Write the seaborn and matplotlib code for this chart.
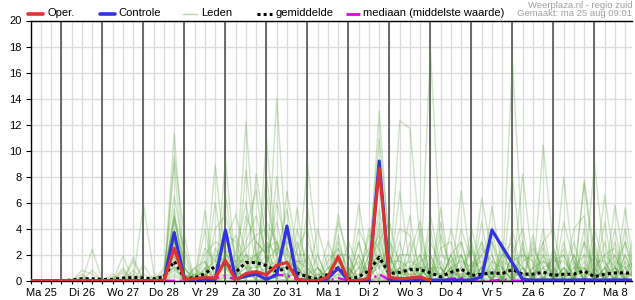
import numpy as np
import pandas as pd
import matplotlib
matplotlib.use("Agg")
import matplotlib.pyplot as plt
import seaborn as sns
from matplotlib.lines import Line2D

# ---------------- data (6-hourly steps, starting Ma 25 06:00) ----------------
day_labels = ["Ma 25", "Di 26", "Wo 27", "Do 28", "Vr 29", "Za 30", "Zo 31",
              "Ma 1", "Di 2", "Wo 3", "Do 4", "Vr 5", "Za 6", "Zo 7", "Ma 8"]
n_steps = 60
hours = [6 + 6 * i for i in range(n_steps)]   # hours since Ma 25 00:00

oper = [0, 0, 0, 0, 0, 0, 0, 0, 0, 0, 0, 0, 0, 0,
        2.5, 0.1, 0.15, 0.25, 0.2, 1.55, 0.05, 0.55, 0.7, 0.45, 1.2, 1.4,
        0.1, 0.0, 0.0, 0.3, 1.85, 0.0, 0.0, 0.2, 8.65, 0.25, 0.15, 0.2, 0.3, 0.0]

controle = [0, 0, 0, 0, 0, 0, 0, 0, 0, 0, 0, 0, 0, 0,
            3.7, 0.1, 0.05, 0.05, 0.1, 3.9, 0.1, 0.35, 0.5, 0.1, 0.45, 4.2,
            0.1, 0.0, 0.0, 0.2, 0.95, 0.0, 0.0, 0.1, 9.2, 0.1,
            0.05, 0.05, 0.05, 0.05, 0.05, 0.05, 0.05, 0.05,
            0.3, 3.9, 2.6, 1.35, 0.1,
            0.05, 0.05, 0.05, 0.05, 0.05, 0.05, 0.05, 0.05, 0.05, 0.05, 0.05]

gemiddelde = [0, 0, 0, 0, 0.05, 0.15, 0.15, 0.1, 0.1, 0.2, 0.25, 0.2, 0.15, 0.3,
              1.5, 0.2, 0.2, 0.55, 1.1, 1.35, 0.65, 1.4, 1.4, 1.15, 0.7, 1.0,
              0.6, 0.3, 0.1, 0.5, 1.0, 0.1, 0.3, 0.75, 1.8, 0.55, 0.65, 0.85,
              0.85, 0.6, 0.3, 0.65, 0.9, 0.4, 0.5, 0.6, 0.55, 0.85, 0.5, 0.5,
              0.65, 0.4, 0.5, 0.5, 0.75, 0.3, 0.5, 0.6, 0.6, 0.55]

mediaan_nonzero = {18: 0.2, 19: 0.35, 20: 0.1, 21: 0.5, 22: 0.55, 23: 0.35, 24: 0.45,
                   25: 0.4, 26: 0.1, 30: 0.2, 34: 0.5, 35: 0.05, 38: 0.1, 41: 0.15,
                   42: 0.2, 46: 0.1, 54: 0.1}

# ensemble members: non-zero values per step index (all others zero)
leden = [
    {6: 2.4, 10: 0.8, 14: 11.3, 15: 1.0, 19: 2.0, 21: 1.5, 24: 14.0, 25: 2.0, 27: 0.5, 30: 1.5,
     32: 2.0, 34: 2.5, 36: 1.0, 39: 17.7, 40: 2.5, 42: 1.0, 44: 3.0, 47: 1.0, 50: 2.0, 52: 1.0,
     54: 3.0, 56: 1.0, 58: 2.0},
    {5: 0.3, 9: 1.9, 14: 9.6, 15: 3.4, 17: 1.0, 19: 9.2, 20: 1.0, 22: 3.0, 23: 2.0, 26: 1.0,
     30: 5.1, 31: 1.0, 34: 4.5, 35: 1.0, 37: 2.0, 38: 4.6, 41: 1.0, 43: 2.5, 45: 1.0, 47: 16.9,
     48: 2.5, 51: 1.0, 53: 2.0, 55: 1.5, 57: 1.0},
    {6: 0.8, 11: 5.9, 12: 0.6, 14: 9.0, 16: 1.0, 18: 8.9, 19: 1.5, 21: 12.2, 22: 1.5, 24: 3.0,
     26: 5.6, 28: 1.0, 30: 2.0, 33: 1.0, 34: 13.0, 35: 2.0, 38: 1.0, 40: 5.6, 42: 2.0, 44: 1.0,
     46: 3.0, 48: 1.0, 50: 10.4, 51: 2.5, 54: 1.0, 56: 4.5, 58: 1.0},
    {10: 1.8, 13: 1.0, 14: 6.5, 15: 2.0, 17: 5.4, 19: 3.0, 20: 5.1, 21: 2.0, 23: 10.9, 24: 2.0,
     27: 9.0, 28: 2.0, 30: 1.0, 32: 5.9, 33: 1.0, 36: 12.3, 37: 11.7, 38: 3.0, 41: 2.0, 44: 6.35,
     45: 2.0, 48: 3.0, 52: 2.0, 54: 7.7, 55: 2.0, 57: 3.0},
    {9: 1.0, 14: 5.5, 16: 0.5, 18: 6.0, 19: 1.0, 21: 8.5, 22: 2.0, 24: 8.0, 25: 1.0, 27: 2.0,
     29: 3.0, 30: 1.0, 33: 2.0, 34: 10.9, 35: 3.0, 37: 1.0, 39: 5.0, 40: 1.0, 42: 6.9, 43: 1.0,
     45: 5.7, 46: 1.0, 48: 8.2, 49: 1.0, 52: 3.0, 55: 9.0, 56: 1.5, 58: 2.0},
    {11: 1.2, 14: 4.9, 15: 0.5, 17: 4.0, 19: 6.6, 20: 1.0, 22: 8.2, 23: 3.0, 25: 6.9, 26: 2.0,
     28: 4.0, 29: 1.0, 31: 3.0, 32: 1.0, 34: 5.5, 36: 3.0, 38: 1.0, 40: 3.5, 41: 1.0, 43: 4.0,
     44: 1.0, 47: 8.0, 48: 1.0, 50: 4.0, 52: 7.95, 53: 1.0, 54: 2.0, 56: 6.6, 57: 1.0, 59: 2.0},
    {13: 0.8, 14: 4.5, 15: 1.5, 18: 4.0, 19: 5.0, 20: 2.0, 21: 6.0, 22: 1.0, 23: 8.1, 24: 1.5,
     26: 4.0, 27: 1.0, 30: 4.5, 31: 2.0, 34: 3.0, 35: 4.5, 36: 1.0, 37: 5.0, 39: 2.0, 41: 4.0,
     42: 1.0, 44: 4.5, 46: 2.0, 47: 3.0, 49: 3.5, 51: 2.5, 54: 7.5, 55: 1.0, 57: 5.8, 58: 1.0},
    {12: 0.4, 14: 4.0, 17: 2.5, 18: 1.5, 19: 4.0, 21: 4.0, 22: 7.0, 23: 1.0, 24: 6.0, 25: 2.5,
     27: 5.5, 28: 1.0, 30: 3.5, 32: 4.0, 33: 2.0, 34: 3.5, 36: 6.9, 37: 1.0, 39: 3.0, 40: 1.0,
     42: 4.0, 43: 1.5, 45: 4.0, 47: 2.0, 48: 4.0, 50: 3.0, 51: 4.0, 53: 1.0, 55: 4.0, 56: 1.0,
     58: 5.6},
    {8: 0.5, 13: 0.5, 14: 3.5, 16: 0.5, 19: 3.5, 20: 3.0, 21: 1.0, 23: 6.5, 24: 2.0, 25: 5.5,
     26: 1.0, 28: 2.0, 30: 2.5, 31: 1.0, 33: 4.0, 34: 1.0, 35: 3.0, 36: 1.5, 38: 4.0, 40: 1.0,
     42: 3.0, 44: 2.0, 45: 3.0, 47: 4.0, 49: 2.5, 50: 1.0, 52: 4.5, 53: 1.5, 55: 3.0, 57: 4.0,
     59: 4.5},
    {9: 0.6, 14: 3.0, 15: 0.5, 17: 2.0, 18: 3.0, 19: 2.5, 21: 3.0, 22: 5.0, 23: 2.0, 24: 4.5,
     25: 1.0, 26: 3.0, 29: 2.0, 30: 1.5, 32: 3.0, 34: 2.0, 35: 1.0, 36: 4.0, 37: 3.5, 38: 1.0,
     40: 2.5, 41: 3.0, 43: 1.0, 44: 1.5, 46: 1.0, 48: 2.5, 50: 1.5, 51: 1.0, 53: 4.0, 54: 5.0,
     56: 3.0, 58: 4.0},
    {10: 1.5, 14: 3.0, 17: 1.0, 19: 2.0, 20: 1.5, 21: 2.5, 22: 3.5, 23: 4.0, 24: 1.0, 25: 4.0,
     27: 3.0, 28: 1.0, 30: 2.0, 31: 2.0, 33: 3.5, 34: 2.5, 36: 2.0, 37: 2.0, 39: 1.0, 41: 2.0,
     42: 3.0, 44: 1.0, 46: 2.0, 47: 1.5, 49: 1.0, 50: 3.0, 52: 1.0, 54: 3.0, 55: 1.0, 56: 2.0,
     57: 2.5},
    {5: 0.8, 6: 0.5, 14: 2.5, 15: 1.0, 18: 2.0, 19: 1.5, 20: 0.5, 21: 2.0, 22: 1.5, 23: 3.0,
     24: 2.0, 25: 3.0, 26: 2.0, 27: 2.0, 29: 1.0, 30: 1.0, 32: 2.0, 34: 1.5, 35: 2.0, 37: 1.0,
     38: 2.0, 40: 1.5, 42: 1.0, 43: 2.5, 45: 3.0, 46: 1.0, 48: 2.0, 49: 1.5, 51: 2.0, 53: 2.0,
     55: 2.0, 57: 1.0, 58: 3.0},
    {8: 0.3, 14: 2.0, 16: 1.0, 17: 1.5, 19: 1.0, 20: 2.0, 21: 1.0, 22: 2.0, 23: 2.5, 24: 3.0,
     25: 1.5, 26: 1.0, 28: 0.5, 30: 3.0, 31: 0.5, 33: 1.5, 34: 3.0, 35: 0.5, 36: 2.0, 38: 1.5,
     39: 2.0, 41: 1.0, 43: 1.0, 44: 3.0, 45: 1.0, 47: 2.0, 48: 1.0, 50: 2.0, 52: 2.5, 54: 1.5,
     56: 1.0, 57: 2.0, 59: 1.0},
    {11: 0.5, 13: 0.3, 14: 2.0, 15: 0.5, 18: 1.0, 19: 2.0, 20: 1.0, 21: 2.0, 22: 1.0, 23: 1.5,
     24: 2.5, 25: 2.0, 26: 1.5, 27: 1.0, 29: 0.5, 30: 2.0, 32: 1.0, 33: 1.0, 34: 2.0, 36: 1.0,
     37: 1.5, 38: 1.0, 40: 2.0, 41: 1.5, 42: 2.0, 44: 2.5, 45: 1.5, 46: 1.0, 48: 1.5, 49: 2.0,
     51: 1.5, 52: 2.0, 54: 2.0, 55: 1.5, 56: 1.5, 58: 1.5},
    {14: 1.8, 16: 0.3, 17: 0.8, 18: 1.5, 19: 1.0, 20: 1.5, 21: 1.5, 22: 2.0, 23: 1.0, 24: 1.5,
     25: 2.5, 26: 1.0, 27: 0.5, 28: 1.0, 30: 1.0, 31: 1.0, 33: 2.0, 34: 1.0, 35: 1.5, 36: 1.5,
     37: 1.0, 38: 0.5, 39: 1.5, 41: 1.0, 42: 1.5, 43: 1.0, 44: 2.0, 46: 1.5, 47: 1.0, 49: 1.0,
     50: 1.5, 51: 0.5, 53: 1.5, 55: 2.5, 57: 1.5, 58: 1.0, 59: 1.5},
    {9: 0.3, 14: 1.5, 15: 0.8, 17: 0.5, 19: 1.5, 20: 0.5, 21: 1.0, 22: 1.0, 23: 2.0, 24: 1.0,
     25: 1.0, 26: 1.5, 27: 1.5, 29: 1.0, 30: 1.5, 31: 0.5, 32: 1.5, 34: 1.5, 35: 1.0, 36: 0.5,
     37: 1.0, 38: 1.0, 39: 1.0, 40: 0.5, 41: 1.5, 43: 1.5, 44: 1.0, 45: 2.0, 47: 1.5, 48: 2.0,
     50: 1.0, 51: 1.5, 52: 1.5, 53: 0.5, 54: 1.0, 56: 2.0, 57: 1.0, 59: 1.0},
    {10: 0.5, 14: 1.2, 16: 0.2, 18: 0.5, 19: 1.0, 20: 0.5, 21: 0.5, 22: 1.5, 23: 0.5, 24: 1.0,
     25: 1.0, 26: 0.5, 28: 0.5, 29: 0.5, 30: 1.0, 32: 0.5, 33: 1.0, 34: 1.5, 35: 0.5, 36: 1.0,
     37: 0.5, 38: 0.5, 39: 1.0, 40: 1.0, 42: 0.5, 43: 0.5, 44: 1.0, 45: 0.5, 46: 0.5, 47: 1.0,
     48: 0.5, 49: 0.5, 50: 1.0, 52: 0.5, 53: 1.0, 54: 1.0, 55: 0.5, 56: 0.5, 57: 1.0, 58: 0.5,
     59: 0.5},
    {13: 0.5, 14: 1.0, 15: 0.3, 17: 0.5, 19: 0.5, 20: 0.3, 21: 1.0, 22: 0.5, 23: 1.0, 24: 0.5,
     25: 0.5, 26: 0.5, 27: 0.3, 30: 0.5, 31: 0.3, 33: 0.5, 34: 1.0, 36: 0.5, 37: 0.5, 39: 0.5,
     40: 0.5, 41: 0.5, 42: 0.5, 44: 0.5, 45: 0.5, 47: 0.5, 48: 0.5, 49: 0.3, 51: 0.5, 52: 0.5,
     54: 0.5, 55: 0.5, 56: 0.3, 58: 0.5, 59: 0.3},
    {14: 1.0, 18: 0.3, 19: 0.5, 21: 0.5, 22: 0.5, 23: 0.5, 24: 0.3, 25: 0.5, 26: 0.3, 29: 0.2,
     30: 0.5, 34: 0.5, 35: 0.3, 37: 0.3, 38: 0.3, 40: 0.3, 42: 0.3, 43: 0.3, 45: 0.3, 46: 0.3,
     48: 0.3, 50: 0.3, 53: 0.3, 55: 0.3, 57: 0.3},
    {14: 0.8, 19: 0.3, 21: 0.3, 22: 0.3, 24: 0.3, 25: 0.3, 30: 0.3, 34: 0.3, 36: 0.3, 41: 0.2,
     44: 0.2, 47: 0.2, 50: 0.2, 54: 0.2, 58: 0.2},
    {14: 5.0, 15: 1.0, 18: 2.5, 19: 1.0, 21: 5.0, 22: 3.0, 23: 2.0, 25: 3.5, 26: 1.0, 30: 2.0,
     32: 3.0, 34: 4.0, 36: 1.0, 38: 2.0, 40: 4.5, 42: 2.0, 44: 1.0, 46: 2.5, 48: 1.0, 50: 2.5,
     52: 1.0, 54: 4.0, 56: 1.0, 58: 3.0},
    {5: 0.5, 9: 0.8, 14: 4.8, 15: 2.5, 17: 1.5, 19: 2.0, 20: 3.5, 21: 1.5, 23: 4.5, 24: 3.0,
     26: 2.5, 27: 4.0, 29: 1.5, 30: 2.5, 32: 1.0, 33: 2.5, 35: 2.0, 37: 3.0, 39: 4.0, 41: 2.0,
     43: 3.0, 45: 1.5, 47: 2.0, 49: 3.0, 51: 2.0, 53: 3.0, 55: 1.0, 57: 2.0, 59: 3.0},
    {14: 0.5, 19: 0.2, 23: 0.2, 24: 0.2, 34: 0.2, 42: 0.1},
    {14: 0.3, 22: 0.1, 25: 0.1, 34: 0.1},
]

# ---------------- build long-form tables ----------------
rows = []
for m, vals in enumerate(leden):
    for i in range(n_steps):
        rows.append({"member": m, "uur": hours[i], "neerslag": vals.get(i, 0.0)})
df_leden = pd.DataFrame(rows)
mediaan = [mediaan_nonzero.get(i, 0.0) for i in range(n_steps)]

# ---------------- figure ----------------
sns.set_theme(style="white")
plt.rcParams["font.family"] = ["Liberation Sans", "DejaVu Sans"]

fig = plt.figure(figsize=(6.35, 3.0), dpi=100)
W, H = 635.0, 300.0
ax = fig.add_axes([30.7 / W, 1 - 280.7 / H, (632 - 30.7) / W, (280.7 - 20.5) / H])

x_end = 6 + 6 * (632 - 30.7) / 10.25
ax.set_xlim(6, x_end)
ax.set_ylim(0, 20)

# grid
ax.set_yticks(np.arange(0, 21, 2))
ax.set_xticks([12 + 24 * k for k in range(len(day_labels))])
ax.set_xticklabels(day_labels)
ax.set_xticks(np.arange(6, x_end, 6), minor=True)
ax.grid(True, which="minor", axis="x", color="#dcdcdc", lw=1.0, zorder=0)
ax.grid(True, which="major", axis="x", color="#dcdcdc", lw=1.0, zorder=0)
ax.grid(True, which="major", axis="y", color="#dcdcdc", lw=1.0, zorder=0)
ax.set_axisbelow(True)
for k in range(1, len(day_labels)):
    ax.axvline(24 * k, color="#555555", lw=1.2, zorder=1)

# ensemble members
sns.lineplot(data=df_leden, x="uur", y="neerslag", units="member", estimator=None,
             color="#4f9f2f", alpha=0.28, lw=1.0, ax=ax, legend=False, zorder=2)
# median / mean / control / oper
sns.lineplot(x=hours, y=mediaan, color="#dd00ee", lw=1.6, ax=ax,
             linestyle=(0, (5, 2, 1, 2)), zorder=3)
sns.lineplot(x=hours, y=gemiddelde, color="black", lw=2.2, ax=ax,
             linestyle=(0, (1, 1)), zorder=4)
sns.lineplot(x=hours, y=controle, color="#3333dd", lw=2.3, ax=ax, zorder=5)
sns.lineplot(x=hours[:len(oper)], y=oper, color="#dd3333", lw=2.3, ax=ax, zorder=6)

ax.set_xlabel("")
ax.set_ylabel("")
for s in ["left", "bottom", "top"]:
    ax.spines[s].set_visible(True)
    ax.spines[s].set_color("black")
    ax.spines[s].set_linewidth(1.0)
ax.spines["right"].set_visible(False)
ax.tick_params(axis="y", which="major", left=True, length=3.4, width=0.8,
               pad=3, labelsize=8, colors="black")
ax.tick_params(axis="x", which="both", bottom=True, length=2.5, width=0.8,
               pad=3, labelsize=8, colors="black")

# legend (drawn at fixed positions above the plot)
def fx(px):
    return px / W

def fy(py):
    return 1 - py / H

ly = 13.5
items = [
    (28, 43, 47, "Oper.", dict(color="#dd3333", lw=2.6)),
    (100, 115, 118, "Controle", dict(color="#3333dd", lw=2.6)),
    (183, 197, 201, "Leden", dict(color="#b5d9a5", lw=1.0)),
    (257, 272, 276, "gemiddelde", dict(color="black", lw=2.2, linestyle=(0, (1, 1)))),
    (346, 361, 363, "mediaan (middelste waarde)",
     dict(color="#dd00ee", lw=2.0, linestyle=(0, (5, 1.5, 1, 1.5)))),
]
for x0, x1, xt, lab, kw in items:
    fig.add_artist(Line2D([fx(x0), fx(x1)], [fy(ly), fy(ly)], transform=fig.transFigure, **kw))
    fig.text(fx(xt), fy(ly), lab, fontsize=8, va="center", ha="left", color="black")

fig.text(fx(632), fy(5), "Weerplaza.nl - regio zuid", fontsize=6.8, color="#a0a0a0",
         ha="right", va="center")
fig.text(fx(632), fy(14), "Gemaakt: ma 25 aug 09:01", fontsize=6.8, color="#a0a0a0",
         ha="right", va="center")

fig.savefig("out.png", dpi=100, facecolor="white")
